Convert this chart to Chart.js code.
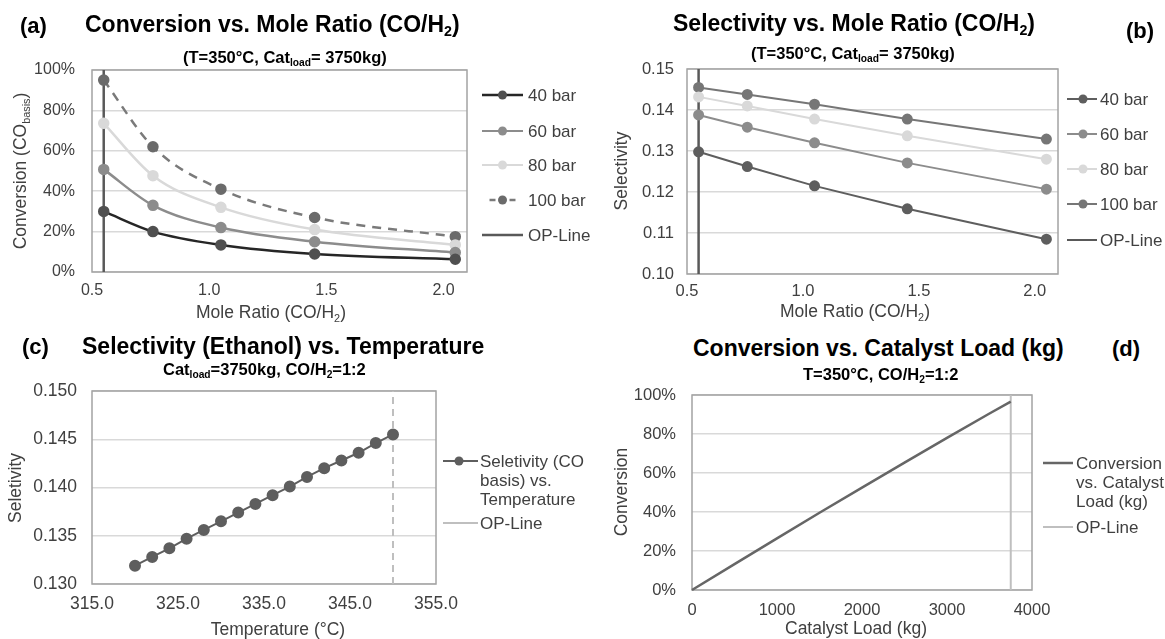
<!DOCTYPE html>
<html>
<head>
<meta charset="utf-8">
<script src="https://cdn.jsdelivr.net/npm/chart.js@4.4.1/dist/chart.umd.min.js"></script>
<style>
  body { margin: 0; background: #fff; }
  #page { position: relative; width: 1165px; height: 639px; overflow: hidden; font-family: 'Liberation Sans', Arial, sans-serif; color: #000; }
  canvas { position: absolute; }
  .t { position: absolute; white-space: nowrap; line-height: 1; font-weight: bold; }
  sub { font-size: 0.62em; vertical-align: -0.3em; line-height: 0; }
  .ax { position: absolute; white-space: nowrap; line-height: 1; font-size: 17.5px; color: #404040; transform: translate(-50%, -50%); }
  .ax.rot { transform: translate(-50%, -50%) rotate(-90deg); }
  .lg { position: absolute; font-size: 17px; color: #404040; line-height: 19px; white-space: nowrap; }
  .sw { position: absolute; overflow: visible; }
</style>
</head>
<body>
<div id="page">
  <canvas id="chartA"></canvas>
  <canvas id="chartB"></canvas>
  <canvas id="chartC"></canvas>
  <canvas id="chartD"></canvas>

  <!-- titles -->
  <div class="t" style="left:20px;top:15px;font-size:22px">(a)</div>
  <div class="t" style="left:85px;top:13px;font-size:23px">Conversion vs. Mole Ratio (CO/H<sub>2</sub>)</div>
  <div class="t" style="left:183px;top:49px;font-size:16.5px">(T=350°C, Cat<sub>load</sub>= 3750kg)</div>

  <div class="t" style="left:673px;top:12px;font-size:23px">Selectivity vs. Mole Ratio (CO/H<sub>2</sub>)</div>
  <div class="t" style="left:751px;top:45px;font-size:16.5px">(T=350°C, Cat<sub>load</sub>= 3750kg)</div>
  <div class="t" style="left:1126px;top:20px;font-size:22px">(b)</div>

  <div class="t" style="left:22px;top:336px;font-size:22px">(c)</div>
  <div class="t" style="left:82px;top:335px;font-size:23px">Selectivity (Ethanol) vs. Temperature</div>
  <div class="t" style="left:163px;top:361px;font-size:16.5px">Cat<sub>load</sub>=3750kg, CO/H<sub>2</sub>=1:2</div>

  <div class="t" style="left:693px;top:337px;font-size:23px">Conversion vs. Catalyst Load (kg)</div>
  <div class="t" style="left:803px;top:366px;font-size:16.5px">T=350°C, CO/H<sub>2</sub>=1:2</div>
  <div class="t" style="left:1112px;top:338px;font-size:22px">(d)</div>

  <!-- axis titles -->
  <div class="ax rot" style="left:21px;top:171px">Conversion (CO<sub>basis</sub>)</div>
  <div class="ax" style="left:271px;top:313px">Mole Ratio (CO/H<sub>2</sub>)</div>
  <div class="ax rot" style="left:622px;top:171px">Selectivity</div>
  <div class="ax" style="left:855px;top:312px">Mole Ratio (CO/H<sub>2</sub>)</div>
  <div class="ax rot" style="left:16px;top:488px">Seletivity</div>
  <div class="ax" style="left:278px;top:630px">Temperature (°C)</div>
  <div class="ax rot" style="left:622px;top:492px">Conversion</div>
  <div class="ax" style="left:856px;top:629px">Catalyst Load (kg)</div>

  <div id="legends"></div>
</div>

<script>
// ---- data ----
const moleRatios = [0.55, 0.76, 1.05, 1.45, 2.05];
const conv40bar = [0.300, 0.200, 0.134, 0.089, 0.063];
const conv60bar = [0.508, 0.330, 0.220, 0.150, 0.096];
const conv80bar = [0.736, 0.477, 0.320, 0.210, 0.134];
const conv100bar = [0.950, 0.620, 0.410, 0.270, 0.175];

const sel40bar = [0.1298, 0.1262, 0.1215, 0.1159, 0.1085];
const sel60bar = [0.1388, 0.1358, 0.1320, 0.1271, 0.1207];
const sel80bar = [0.1432, 0.1410, 0.1378, 0.1337, 0.1280];
const sel100bar = [0.1455, 0.1438, 0.1414, 0.1378, 0.1329];
const opRatio = 0.55;

const temperatures = [320, 322, 324, 326, 328, 330, 332, 334, 336, 338, 340, 342, 344, 346, 348, 350];
const selByTemp = [0.1319, 0.1328, 0.1337, 0.1347, 0.1356, 0.1365, 0.1374, 0.1383, 0.1392, 0.1401, 0.1411, 0.1420, 0.1428, 0.1436, 0.1446, 0.1455];
const opTemp = 350;

const catalystLoads = [0, 500, 1000, 1500, 2000, 2500, 3000, 3500, 3750];
const convByLoad = [0, 0.133, 0.265, 0.396, 0.525, 0.653, 0.780, 0.905, 0.966];
const opLoad = 3750;

const FONT = "'Liberation Sans', Arial, sans-serif";
const TICK_COLOR = '#404040';

const pts = (xs, ys) => xs.map((x, i) => ({ x: x, y: ys[i] }));
const pct = v => Math.round(v * 100) + '%';

// grey frame round the plot area
const plotBox = {
    id: 'plotBox',
    beforeDatasetsDraw(chart) {
        const { ctx, chartArea: a } = chart;
        ctx.save();
        ctx.strokeStyle = '#a3a3a3';
        ctx.lineWidth = 1.5;
        ctx.strokeRect(a.left, a.top, a.right - a.left, a.bottom - a.top);
        ctx.restore();
    }
};

function series(data, color, opts) {
    return Object.assign({
        data: data,
        borderColor: color,
        backgroundColor: color,
        pointBackgroundColor: color,
        pointBorderColor: color,
        borderWidth: 2,
        pointRadius: 4.5,
        pointHoverRadius: 4.5,
        clip: false
    }, opts || {});
}

function opLine(x, y0, y1, color, opts) {
    return series([{ x: x, y: y0 }, { x: x, y: y1 }], color, Object.assign({ pointRadius: 0, borderWidth: 2.5 }, opts || {}));
}

function makeChart(id, box, cfg) {
    const canvas = document.getElementById(id);
    // enough room above the plot for the top tick label + its padding
    const padT = 34;
    const w = (box.r - box.l) + cfg.yW + cfg.padR;
    const h = padT + (box.b - box.t) + cfg.xH;
    canvas.width = w;
    canvas.height = h;
    canvas.style.left = (box.l - cfg.yW) + 'px';
    canvas.style.top = (box.t - padT) + 'px';
    canvas.style.width = w + 'px';
    canvas.style.height = h + 'px';

    return new Chart(canvas, {
        type: 'line',
        data: { datasets: cfg.datasets },
        options: {
            responsive: false,
            animation: false,
            devicePixelRatio: 1,
            layout: { padding: { top: padT, right: cfg.padR, left: 0, bottom: 0 } },
            plugins: { legend: { display: false }, tooltip: { enabled: false } },
            scales: {
                x: Object.assign({
                    type: 'linear',
                    grid: { display: false, drawTicks: false },
                    border: { display: false },
                    afterFit(s) { s.height = cfg.xH; }
                }, cfg.x, {
                    ticks: Object.assign({ color: TICK_COLOR, font: { family: FONT, size: cfg.tick }, padding: cfg.xPad, maxRotation: 0, autoSkip: false, includeBounds: false }, cfg.x.ticks)
                }),
                y: Object.assign({
                    type: 'linear',
                    grid: { color: '#d9d9d9', lineWidth: 1.5, drawTicks: false },
                    border: { display: false },
                    afterFit(s) { s.width = cfg.yW; }
                }, cfg.y, {
                    ticks: Object.assign({ color: TICK_COLOR, font: { family: FONT, size: cfg.tick }, padding: cfg.yPad, autoSkip: false }, cfg.y.ticks)
                })
            }
        },
        plugins: [plotBox]
    });
}

// (a) conversion vs mole ratio
makeChart('chartA', { l: 92, t: 70, r: 467, b: 272 }, {
    yW: 92, xH: 40, padR: 14, tick: 16, xPad: 9, yPad: 17,
    x: { min: 0.5, max: 2.1, ticks: { stepSize: 0.5, callback: v => v.toFixed(1) } },
    y: { min: 0, max: 1, ticks: { stepSize: 0.2, callback: pct } },
    datasets: [
        series(pts(moleRatios, conv40bar), '#262626', { pointBackgroundColor: '#505050', pointBorderColor: '#505050', borderWidth: 2.5, cubicInterpolationMode: 'monotone' }),
        series(pts(moleRatios, conv60bar), '#8c8c8c', { borderWidth: 2.5, cubicInterpolationMode: 'monotone' }),
        series(pts(moleRatios, conv80bar), '#d9d9d9', { borderWidth: 2.5, cubicInterpolationMode: 'monotone' }),
        series(pts(moleRatios, conv100bar), '#7a7a7a', { pointBackgroundColor: '#6b6b6b', pointBorderColor: '#6b6b6b', borderWidth: 2.5, borderDash: [9, 7], cubicInterpolationMode: 'monotone' }),
        opLine(opRatio, 0, 1, '#595959')
    ]
});

// (b) selectivity vs mole ratio
makeChart('chartB', { l: 687, t: 69, r: 1058, b: 274 }, {
    yW: 80, xH: 40, padR: 14, tick: 16.5, xPad: 8, yPad: 13,
    x: { min: 0.5, max: 2.1, ticks: { stepSize: 0.5, callback: v => v.toFixed(1) } },
    y: { min: 0.10, max: 0.15, ticks: { stepSize: 0.01, callback: v => v.toFixed(2) } },
    datasets: [
        series(pts(moleRatios, sel40bar), '#5e5e5e'),
        series(pts(moleRatios, sel60bar), '#8c8c8c'),
        series(pts(moleRatios, sel80bar), '#d9d9d9'),
        series(pts(moleRatios, sel100bar), '#767676'),
        opLine(opRatio, 0.10, 0.15, '#595959')
    ]
});

// (c) selectivity vs temperature
makeChart('chartC', { l: 92, t: 391, r: 436, b: 584 }, {
    yW: 92, xH: 40, padR: 44, tick: 17.5, xPad: 9.5, yPad: 15,
    x: { min: 315, max: 355, ticks: { stepSize: 10, callback: v => v.toFixed(1) } },
    y: { min: 0.13, max: 0.15, ticks: { stepSize: 0.005, callback: v => v.toFixed(3) } },
    datasets: [
        series(pts(temperatures, selByTemp), '#5e5e5e', { pointRadius: 5 }),
        opLine(opTemp, 0.13, 0.15, '#bfbfbf', { borderWidth: 2, borderDash: [7, 5] })
    ]
});

// (d) conversion vs catalyst load
makeChart('chartD', { l: 692, t: 395, r: 1032, b: 590 }, {
    yW: 80, xH: 40, padR: 40, tick: 16.5, xPad: 10.5, yPad: 16,
    x: { min: 0, max: 4000, ticks: { stepSize: 1000, callback: v => String(v) } },
    y: { min: 0, max: 1, ticks: { stepSize: 0.2, callback: pct } },
    datasets: [
        series(pts(catalystLoads, convByLoad), '#666666', { pointRadius: 0, borderWidth: 2.5 }),
        opLine(opLoad, 0, 1, '#bfbfbf', { borderWidth: 2 })
    ]
});

// ---- legends (html) ----
const legendHost = document.getElementById('legends');

function swatch(x0, x1, y, color, opts) {
    opts = opts || {};
    const w = x1 - x0;
    const ns = 'http://www.w3.org/2000/svg';
    const svg = document.createElementNS(ns, 'svg');
    svg.setAttribute('class', 'sw');
    svg.setAttribute('width', w);
    svg.setAttribute('height', 14);
    svg.style.left = x0 + 'px';
    svg.style.top = (y - 7) + 'px';
    const dot = opts.dot === undefined ? w / 2 : opts.dot;
    if (opts.dashed) {
        [[dot - 13, dot - 7], [dot + 7, dot + 13]].forEach(seg => {
            const l = document.createElementNS(ns, 'line');
            l.setAttribute('x1', seg[0]); l.setAttribute('x2', seg[1]);
            l.setAttribute('y1', 7); l.setAttribute('y2', 7);
            l.setAttribute('stroke', color); l.setAttribute('stroke-width', opts.lw || 2.5);
            svg.appendChild(l);
        });
    } else {
        const l = document.createElementNS(ns, 'line');
        l.setAttribute('x1', 0); l.setAttribute('x2', w);
        l.setAttribute('y1', 7); l.setAttribute('y2', 7);
        l.setAttribute('stroke', color); l.setAttribute('stroke-width', opts.lw || 2);
        svg.appendChild(l);
    }
    if (opts.marker) {
        const c = document.createElementNS(ns, 'circle');
        c.setAttribute('cx', dot); c.setAttribute('cy', 7); c.setAttribute('r', 4.5);
        c.setAttribute('fill', opts.markerColor || color);
        svg.appendChild(c);
    }
    legendHost.appendChild(svg);
}

function legendText(x, y, html) {
    const d = document.createElement('div');
    d.className = 'lg';
    d.style.left = x + 'px';
    d.style.top = (y - 9.5) + 'px';
    d.innerHTML = html;
    legendHost.appendChild(d);
}

const legendA = [
    { label: '40 bar', color: '#262626', markerColor: '#505050', y: 95, marker: true, lw: 2.5 },
    { label: '60 bar', color: '#8c8c8c', y: 131, marker: true },
    { label: '80 bar', color: '#d9d9d9', y: 165, marker: true },
    { label: '100 bar', color: '#7a7a7a', markerColor: '#6b6b6b', y: 200, marker: true, dashed: true },
    { label: 'OP-Line', color: '#595959', y: 235, lw: 2.5 }
];
legendA.forEach(e => { swatch(482, 523, e.y, e.color, e); legendText(528, e.y, e.label); });

const legendB = [
    { label: '40 bar', color: '#5e5e5e', y: 99, marker: true },
    { label: '60 bar', color: '#8c8c8c', y: 134, marker: true },
    { label: '80 bar', color: '#d9d9d9', y: 169, marker: true },
    { label: '100 bar', color: '#767676', y: 204, marker: true },
    { label: 'OP-Line', color: '#595959', y: 240 }
];
legendB.forEach(e => { swatch(1067, 1097, e.y, e.color, Object.assign({ dot: 16 }, e)); legendText(1100, e.y, e.label); });

swatch(443, 478, 461, '#5e5e5e', { marker: true, dot: 16 });
legendText(480, 461, 'Seletivity (CO<br>basis) vs.<br>Temperature');
swatch(443, 478, 523, '#bfbfbf', {});
legendText(480, 523, 'OP-Line');

swatch(1043, 1073, 463, '#666666', { lw: 2.5 });
legendText(1076, 463, 'Conversion<br>vs. Catalyst<br>Load (kg)');
swatch(1043, 1073, 527, '#bfbfbf', {});
legendText(1076, 527, 'OP-Line');
</script>
</body>
</html>
